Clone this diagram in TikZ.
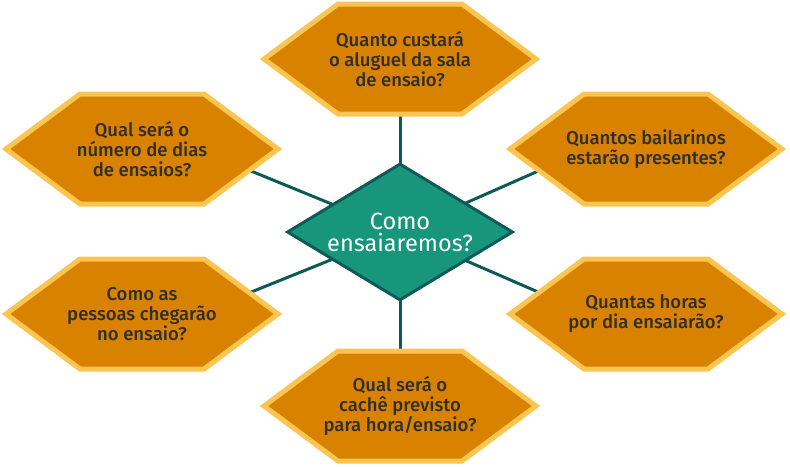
\documentclass[tikz,border=0pt]{standalone}
\usepackage{fontspec}
\setmainfont{Fira Sans}
\newfontfamily\qfont{Fira Sans}[UprightFont=* Medium]
\usepackage{tikz}
\usetikzlibrary{shapes.geometric, backgrounds}
\usepackage{xcolor}
\definecolor{hexfill}{HTML}{D98200}
\definecolor{hexline}{HTML}{FBC552}
\definecolor{qtext}{HTML}{2E2E2E}
\definecolor{dmfill}{HTML}{17967C}
\definecolor{dmline}{HTML}{0E5A56}
% hexagon with its question: name, x, y, text
\newcommand{\hexq}[4]{%
  \draw[hexa] (#2,#3) ++(-136,0) -- ++(74,-55) -- ++(124,0) -- ++(74,55) -- ++(-74,55) -- ++(-124,0) -- cycle;
  \node[qlabel] (#1) at (#2,#3) {#4};}

\begin{document}
\begin{tikzpicture}[x=1pt, y=-1pt,
  hexa/.style = {draw=hexline, fill=hexfill, line width=5pt},
  qlabel/.style = {minimum width=180pt, minimum height=70pt, inner sep=0pt, align=center, text=qtext, font=\qfont\fontsize{18.5}{20}\selectfont},
  centre/.style = {diamond, draw=dmline, fill=dmfill, line width=3pt, aspect=1.64, minimum width=226pt, minimum height=137pt, inner sep=0pt, align=center, text=white, font=\fontsize{23.5}{22}\selectfont},
  link/.style = {draw=dmline, line width=3pt}]
  \useasboundingbox (0,0) rectangle (790,466);
  \node[centre] (dm) at (400,232) {Como\\ensaiaremos?};
  \hexq{top}{400}{59}{Quanto custará\\o aluguel da sala\\de ensaio?}
  \hexq{lt}{142}{149}{Qual será o\\número de dias\\de ensaios?}
  \hexq{rt}{646}{149}{Quantos bailarinos\\estarão presentes?}
  \hexq{lb}{142}{314}{Como as\\pessoas chegarão\\no ensaio?}
  \hexq{rb}{646}{314}{Quantas horas\\por dia ensaiarão?}
  \hexq{bot}{400}{406}{Qual será o\\cachê previsto\\para hora/ensaio?}
  \begin{scope}[on background layer]
  \draw[link] (dm.center) to (top.center);
  \draw[link] (dm.center) to (bot.center);
  \draw[link] (dm.center) to (lt.-9);
  \draw[link] (dm.center) to (rt.189);
  \draw[link] (dm.center) to (lb.9);
  \draw[link] (dm.center) to (rb.171);
  \end{scope}
\end{tikzpicture}
\end{document}
